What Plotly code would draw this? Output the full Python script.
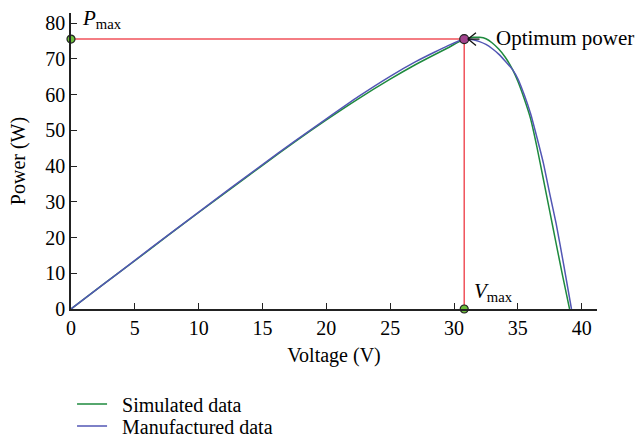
import plotly.graph_objects as go

# Power-voltage characteristic of the PV module
voltage_sim = [0, 2.5, 5, 7.5, 10, 12.5, 15, 17.5, 20, 22.5, 25, 27, 28.5, 29.5, 30.8,
               31.5, 32, 32.5, 33, 33.5, 34, 34.6, 35, 35.5, 36, 36.5, 37, 37.5, 38, 38.5, 39.05]
power_sim = [0, 6.8, 13.5, 20.3, 27.0, 33.6, 40.2, 46.7, 52.9, 58.8, 64.3, 68.4, 71.2, 73.0, 75.5,
             76.0, 76.0, 75.6, 74.4, 72.7, 70.5, 66.9, 63.7, 58.8, 53.2, 45.2, 36.3, 27.3, 18.3, 9.4, 0]

voltage_man = [0, 2.5, 5, 7.5, 10, 12.5, 15, 17.5, 20, 22.5, 25, 27, 28.5, 29.5, 30.8,
               31.5, 32, 32.5, 33, 33.5, 34, 34.6, 35, 35.5, 36, 36.5, 37, 37.5, 38, 38.6, 39.2]
power_man = [0, 6.8, 13.6, 20.4, 27.1, 33.8, 40.4, 46.9, 53.2, 59.4, 65.1, 69.2, 71.9, 73.6, 75.5,
             75.3, 74.8, 74.0, 72.8, 71.3, 69.4, 66.9, 64.4, 59.9, 54.6, 47.9, 40.8, 32.2, 23.9, 12.2, 0]

v_max = 30.8
p_max = 75.5

FONT = "Liberation Serif"
RED = "#f0525a"
GREEN_DOT = "#6cbf3a"
TXT = dict(family=FONT, size=20, color="black")

fig = go.Figure()

# guide lines to the maximum power point
fig.add_trace(go.Scatter(x=[0, v_max], y=[p_max, p_max], mode="lines",
                         line=dict(color=RED, width=1.5), showlegend=False, hoverinfo="skip"))
fig.add_trace(go.Scatter(x=[v_max, v_max], y=[0, p_max], mode="lines",
                         line=dict(color=RED, width=1.5), showlegend=False, hoverinfo="skip"))

fig.add_trace(go.Scatter(x=voltage_sim, y=power_sim, mode="lines", name="&nbsp;&nbsp;Simulated data",
                         line=dict(color="#1e8a3e", width=1.5, shape="spline", smoothing=0.5),
                         legend="legend"))
fig.add_trace(go.Scatter(x=voltage_man, y=power_man, mode="lines", name="&nbsp;&nbsp;Manufactured data",
                         line=dict(color="#5256b4", width=1.5, shape="spline", smoothing=0.5),
                         legend="legend2"))

# projection markers on the axes and the optimum point
fig.add_trace(go.Scatter(x=[0, v_max], y=[p_max, 0], mode="markers", showlegend=False,
                         marker=dict(color=GREEN_DOT, size=8, line=dict(color="#222", width=1.2)),
                         cliponaxis=False, hoverinfo="skip"))
fig.add_trace(go.Scatter(x=[v_max], y=[p_max], mode="markers", showlegend=False,
                         marker=dict(color="#a2438e", size=9, line=dict(color="#222", width=1.2)),
                         cliponaxis=False, hoverinfo="skip"))

# open chevron arrow pointing at the optimum point
dx, dy = 0.62, 1.8
fig.add_shape(type="path",
              path=f"M {v_max + 0.3 + dx},{p_max + dy} L {v_max + 0.3},{p_max} L {v_max + 0.3 + dx},{p_max - dy}",
              line=dict(color="#111", width=1.3))
fig.add_shape(type="line", x0=v_max + 0.3, y0=p_max, x1=v_max + 0.3 + 0.9, y1=p_max,
              line=dict(color="#111", width=1.3))

fig.add_annotation(x=v_max + 2.3, y=p_max + 0.3, text="Optimum power", showarrow=False,
                   xanchor="left", yanchor="middle", font=dict(family=FONT, size=21, color="black"))
fig.add_annotation(x=0.7, y=p_max + 1.3, text="<i>P</i><sub>max</sub>", showarrow=False,
                   xanchor="left", yanchor="bottom", font=dict(family=FONT, size=21, color="black"))
fig.add_annotation(x=v_max + 0.6, y=0.6, text="<i>V</i><sub>max</sub>", showarrow=False,
                   xanchor="left", yanchor="bottom", font=dict(family=FONT, size=21, color="black"))

axis_common = dict(showgrid=False, zeroline=False, showline=True, linecolor="#222", linewidth=1.6,
                   ticks="inside", ticklen=6, tickwidth=1.3, tickcolor="#222",
                   tickfont=TXT)

fig.update_xaxes(range=[0, 41.2], dtick=5, tick0=0,
                 title=dict(text="Voltage (V)", font=TXT, standoff=10),
                 **axis_common)
fig.update_yaxes(range=[0, 82.8], dtick=10, tick0=0,
                 title=dict(text="Power (W)", font=TXT, standoff=14),
                 **axis_common)

legend_common = dict(xanchor="left", yanchor="middle", orientation="v", font=TXT,
                     bgcolor="rgba(0,0,0,0)", itemwidth=30)

fig.update_layout(
    width=639, height=445,
    margin=dict(l=71, r=42, t=13, b=136, autoexpand=False),
    plot_bgcolor="white", paper_bgcolor="white",
    font=TXT,
    legend=dict(x=0.002, y=-(404 - 309) / 296, **legend_common),
    legend2=dict(x=0.002, y=-(426 - 309) / 296, **legend_common),
)

fig.write_html("out.html")
